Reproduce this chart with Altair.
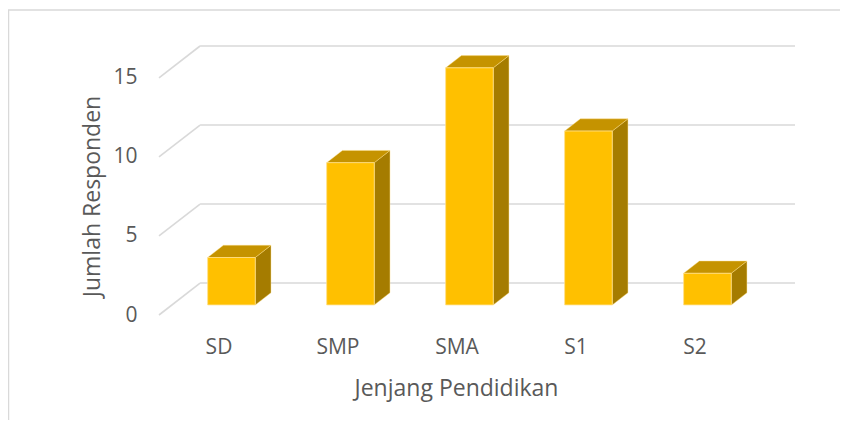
import altair as alt
import pandas as pd

# ---- data ----
categories = ["SD", "SMP", "SMA", "S1", "S2"]
values = [3, 9, 15, 11, 2]
y_ticks = [0, 5, 10, 15]

x_title = "Jenjang Pendidikan"
y_title = "Jumlah Responden"

# ---- 3D geometry (in data units) ----
DX = 0.345   # depth of the floor/walls along x (category units)
DY = 2.02    # depth of the floor/walls along y (value units)
F = 0.316    # bar front position as fraction of depth
D = 0.383    # bar depth as fraction of depth
W = 0.40     # bar width (category units)

n = len(categories)
xs = alt.Scale(domain=[-0.5, n - 0.5 + DX], nice=False, zero=False)
ys = alt.Scale(domain=[0, max(y_ticks) + DY], nice=False, zero=False)

front_color = "#FFC000"
top_color = "#C59300"
side_color = "#A57C00"
edge_color = "#FFE08A"
grid_color = "#D9D9D9"
text_color = "#595959"

rows = []
for i, (c, v) in enumerate(zip(categories, values)):
    xl = i + F * DX - W / 2
    xr = xl + W
    yb = F * DY
    yt = v + F * DY
    rows.append(dict(cat=c, i=i, xl=xl, xr=xr, yb=yb, yt=yt))
bars = pd.DataFrame(rows)

side_rows, top_rows = [], []
for r in rows:
    side_rows.append(dict(cat=r["cat"], x=r["xr"], y=r["yb"], y2=r["yt"]))
    side_rows.append(dict(cat=r["cat"], x=r["xr"] + D * DX, y=r["yb"] + D * DY, y2=r["yt"] + D * DY))
    top_rows.append(dict(cat=r["cat"], y=r["yt"], x=r["xl"], x2=r["xr"]))
    top_rows.append(dict(cat=r["cat"], y=r["yt"] + D * DY, x=r["xl"] + D * DX, x2=r["xr"] + D * DX))
side = pd.DataFrame(side_rows)
top = pd.DataFrame(top_rows)

grid = pd.DataFrame({"v": y_ticks})
grid["x0"] = -0.5
grid["x1"] = -0.5 + DX
grid["x2"] = n - 0.5 + DX
grid["yb"] = grid["v"] + DY

label_expr = "[" + ",".join("'%s'" % c for c in categories) + "][datum.value]"

x_axis = alt.Axis(
    values=list(range(n)), labelExpr=label_expr, domain=False, ticks=False, grid=False,
    tickSize=0, labelPadding=32, labelBaseline="middle", labelFontSize=21, labelColor=text_color,
    title=x_title, titleFontSize=23, titleFontWeight="normal", titleColor=text_color,
    titleX=297, titleY=80, titleAlign="center", titleBaseline="alphabetic", labelFlush=False,
)
y_axis = alt.Axis(
    values=y_ticks, domain=False, ticks=False, grid=False, tickSize=0, labelPadding=22,
    labelFontSize=21, labelColor=text_color, labelBaseline="middle",
    title=y_title, titleFontSize=23, titleFontWeight="normal", titleColor=text_color,
    titleX=-60, titleY=150, titleAngle=270, titleAlign="center", titleBaseline="alphabetic",
)

slant = alt.Chart(grid).mark_rule(color=grid_color, strokeWidth=1.6).encode(
    x=alt.X("x0:Q", scale=xs, axis=x_axis),
    x2="x1:Q",
    y=alt.Y("v:Q", scale=ys, axis=y_axis),
    y2="yb:Q",
)
back = alt.Chart(grid).mark_rule(color=grid_color, strokeWidth=1.6).encode(
    x=alt.X("x1:Q", scale=xs, axis=x_axis),
    x2="x2:Q",
    y=alt.Y("yb:Q", scale=ys, axis=y_axis),
)

side_layer = alt.Chart(side).mark_area(color=side_color, stroke=edge_color, strokeWidth=0.6, strokeOpacity=0.7).encode(
    x=alt.X("x:Q", scale=xs, axis=x_axis),
    y=alt.Y("y:Q", scale=ys, axis=y_axis),
    y2="y2:Q",
    detail="cat:N",
)
top_layer = alt.Chart(top).mark_area(orient="horizontal", color=top_color, stroke=edge_color, strokeWidth=0.6, strokeOpacity=0.7).encode(
    y=alt.Y("y:Q", scale=ys, axis=y_axis),
    x=alt.X("x:Q", scale=xs, axis=x_axis),
    x2="x2:Q",
    detail="cat:N",
)

front = alt.Chart(bars).mark_rect(color=front_color, stroke=edge_color, strokeWidth=0.8).encode(
    x=alt.X("xl:Q", scale=xs, axis=x_axis),
    x2="xr:Q",
    y=alt.Y("yb:Q", scale=ys, axis=y_axis),
    y2="yt:Q",
)

one = pd.DataFrame({"a": [0]})
border_left = alt.Chart(one).mark_rule(color=grid_color, strokeWidth=1.5).encode(
    x=alt.value(-150.5), y=alt.value(-36), y2=alt.value(380)
)
border_top = alt.Chart(one).mark_rule(color=grid_color, strokeWidth=1.5).encode(
    x=alt.value(-151), x2=alt.value(700), y=alt.value(-36)
)

chart = alt.layer(
    slant, back, side_layer, top_layer, front, border_left, border_top
).properties(
    width=636, height=269,
    autosize=alt.AutoSizeParams(type="none"),
    padding={"left": 151, "top": 38, "right": 45, "bottom": 105},
).configure(
    font="Open Sans", background="white"
).configure_view(strokeWidth=0, stroke="transparent")

chart.save("out.html", embed_options={"renderer": "svg", "actions": False})
